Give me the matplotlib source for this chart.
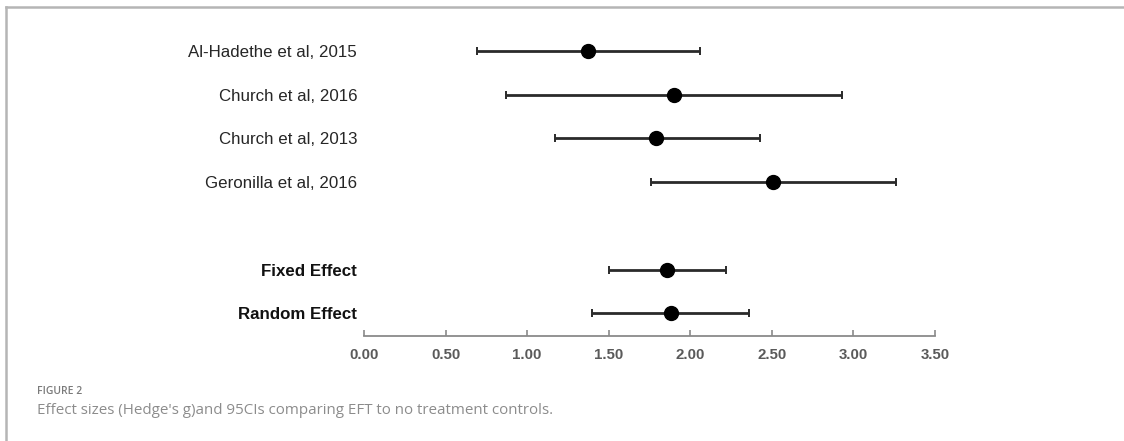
import matplotlib
matplotlib.use("Agg")
import matplotlib.pyplot as plt
from matplotlib.lines import Line2D

studies = ["Al-Hadethe et al, 2015", "Church et al, 2016", "Church et al, 2013",
           "Geronilla et al, 2016", "Fixed Effect", "Random Effect"]
effect = [1.37, 1.90, 1.79, 2.51, 1.86, 1.88]
ci_low = [0.69, 0.87, 1.17, 1.76, 1.50, 1.40]
ci_high = [2.06, 2.93, 2.43, 3.26, 2.22, 2.36]
row_pos = [0, 1, 2, 3, 5, 6]
bold_rows = [False, False, False, False, True, True]
xticks = [0.0, 0.5, 1.0, 1.5, 2.0, 2.5, 3.0, 3.5]
xtick_labels = ["0.00", "0.50", "1.00", "1.50", "2.00", "2.50", "3.00", "3.50"]

W, H = 1124, 441
fig = plt.figure(figsize=(W / 100, H / 100), dpi=100)
plt.rcParams['font.family'] = ['Liberation Sans', 'DejaVu Sans']

left_px, right_px = 364, 935
axis_px, top_px = 335.7, 29.2
ax = fig.add_axes([left_px / W, (H - axis_px) / H,
                   (right_px - left_px) / W, (axis_px - top_px) / H])

xerr = [[e - l for e, l in zip(effect, ci_low)],
        [h - e for e, h in zip(effect, ci_high)]]
ax.errorbar(effect, row_pos, xerr=xerr, fmt='o', color='black', ms=10,
            ecolor='#2a2a2a', elinewidth=2.0, capsize=3.2, capthick=1.4, zorder=3)

ax.set_xlim(0, 3.5)
ax.set_ylim(6.515, -0.5)
ax.set_xticks(xticks)
ax.set_xticklabels(xtick_labels, fontsize=10.8, fontweight='bold', color='#5a5a5a')
ax.set_yticks(row_pos)
ax.set_yticklabels(studies, fontsize=12.2, color='#262626')
for lab, b in zip(ax.get_yticklabels(), bold_rows):
    if b:
        lab.set_fontweight('bold')
        lab.set_color('#111111')
ax.tick_params(axis='y', length=0, pad=5)
ax.tick_params(axis='x', direction='in', length=4, width=1.2, color='#8a8a8a', pad=9)
for s in ['top', 'right', 'left']:
    ax.spines[s].set_visible(False)
ax.spines['bottom'].set_color('#8a8a8a')
ax.spines['bottom'].set_linewidth(1.3)

# page border (top and left)
fig.add_artist(Line2D([6 / W, 1.0], [(H - 7) / H, (H - 7) / H],
                      transform=fig.transFigure, color='#b5b5b5', lw=1.8))
fig.add_artist(Line2D([6 / W, 6 / W], [0, (H - 7) / H],
                      transform=fig.transFigure, color='#b5b5b5', lw=1.8))

fig.text(37 / W, (H - 392) / H, "FIGURE 2", fontsize=7.5, color='#7a7a7a',
         fontweight='semibold', family=['Open Sans', 'DejaVu Sans'], va='center', ha='left')
fig.text(37 / W, (H - 410) / H,
         "Effect sizes (Hedge's g)and 95CIs comparing EFT to no treatment controls.",
         fontsize=10.9, color='#8c8c8c', family=['Open Sans', 'DejaVu Sans'],
         va='center', ha='left')

fig.savefig("out.png", dpi=100)
